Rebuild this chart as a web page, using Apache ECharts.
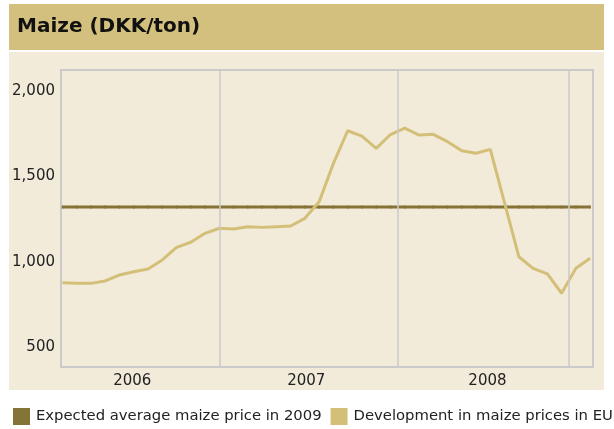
<!DOCTYPE html>
<html>
<head>
<meta charset="utf-8">
<title>Maize (DKK/ton)</title>
<script src="https://cdn.jsdelivr.net/npm/echarts@6/dist/echarts.min.js"></script>
<style>
  html, body { margin: 0; padding: 0; background: #fff; }
  #chart { width: 614px; height: 429px; }
</style>
</head>
<body>
<div id="chart"></div>
<script>
// monthly maize prices in the EU (DKK/ton)
const euPrices = [877, 873, 873, 887, 922, 941, 957, 1010, 1084, 1114, 1166, 1196,
  1191, 1205, 1201, 1205, 1209, 1254, 1351, 1576, 1767, 1736, 1664, 1745,
  1783, 1742, 1746, 1703, 1650, 1635, 1658, 1344, 1029, 961, 928, 815, 961, 1020]
const expected2009 = 1320
const yearLabels = ['2006', '2007', '2008']
const yearLabelAt = [4.9, 17.1, 29.8]   // month index under each year label
const yearBreaks = [11, 23.5, 35.5]     // month index of the grey dividers
const yTicks = [500, 1000, 1500, 2000]

const seriesNames = ['Expected average maize price in 2009', 'Development in maize prices in EU']

const chart = echarts.init(document.getElementById('chart'))
const font = '"DejaVu Sans", sans-serif'

chart.setOption({
  animation: false,
  textStyle: { fontFamily: font },
  graphic: [
    { type: 'rect', shape: { x: 9, y: 52, width: 595, height: 338 }, style: { fill: '#f2ebda' }, z: -10 },
    { type: 'rect', shape: { x: 9, y: 4, width: 595, height: 46 }, style: { fill: '#d4c07e' }, z: -10 },
    { type: 'text', left: 17, top: 17, style: { text: 'Maize (DKK/ton)', fontSize: 20, fontWeight: 'bold', fill: '#111', fontFamily: font } }
  ],
  legend: {
    left: 13,
    right: 0,
    top: 408,
    padding: 0,
    itemWidth: 17,
    itemHeight: 17,
    itemGap: 9,
    icon: 'rect',
    textStyle: { fontSize: 14.8, color: '#222', padding: [0, 0, 0, 1] },
    data: seriesNames
  },
  grid: {
    left: 61, right: 21, top: 70, bottom: 62,
    show: true,
    borderColor: '#cacaca',
    borderWidth: 2
  },
  xAxis: {
    type: 'value',
    min: -0.1,
    max: 37.2,
    splitLine: { show: false },
    axisLine: { show: false },
    axisTick: { show: false },
    axisLabel: {
      customValues: yearLabelAt,
      formatter: (v) => yearLabels[yearLabelAt.indexOf(v)],
      color: '#222',
      fontSize: 15,
      margin: 7
    }
  },
  yAxis: {
    type: 'value',
    min: 383,
    max: 2123,
    splitLine: { show: false },
    axisLine: { show: false },
    axisTick: { show: false },
    axisLabel: {
      customValues: yTicks,
      formatter: (v) => v.toLocaleString('en-US'),
      color: '#222',
      fontSize: 15,
      margin: 6
    }
  },
  series: [
    {
      name: seriesNames[0],
      type: 'line',
      data: euPrices.map((_, i) => [i, expected2009]),
      symbol: 'rect',
      symbolSize: [1.5, 3],
      showSymbol: true,
      itemStyle: { color: '#857438' },
      lineStyle: { color: '#847334', width: 3 },
      z: 3
    },
    {
      name: seriesNames[1],
      type: 'line',
      data: euPrices.map((v, i) => [i, v]),
      showSymbol: false,
      itemStyle: { color: '#d4bf79' },
      lineStyle: { color: '#d4bf79', width: 3 },
      z: 4,
      markLine: {
        silent: true,
        symbol: 'none',
        label: { show: false },
        lineStyle: { color: '#cacaca', width: 1.5, type: 'solid' },
        data: yearBreaks.map((x) => ({ xAxis: x }))
      }
    }
  ]
})
</script>
</body>
</html>
